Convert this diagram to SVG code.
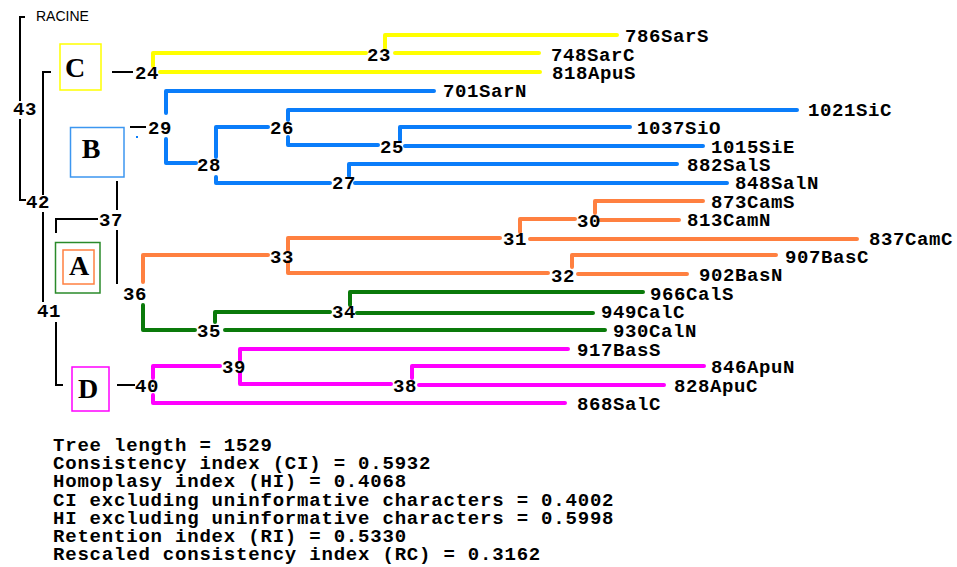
<svg xmlns="http://www.w3.org/2000/svg" width="957" height="567" viewBox="0 0 957 567">
<style>
.lab{font-family:"Liberation Mono","DejaVu Sans Mono",monospace;font-weight:bold;font-size:19px;letter-spacing:0.6px;fill:#000}
.num{font-family:"Liberation Mono","DejaVu Sans Mono",monospace;font-weight:bold;font-size:19px;letter-spacing:0.6px;fill:#000}
.stat{font-family:"Liberation Mono","DejaVu Sans Mono",monospace;font-weight:bold;font-size:19px;letter-spacing:0.8px;fill:#000}
.big{font-family:"Liberation Serif","DejaVu Serif",serif;font-weight:bold;font-size:28px;fill:#000;text-anchor:middle}
.y{fill:none;stroke:#FFFF00;stroke-width:4;stroke-linecap:round;stroke-linejoin:round}
.b{fill:none;stroke:#0A7DFA;stroke-width:4;stroke-linecap:round;stroke-linejoin:round}
.o{fill:none;stroke:#FF8040;stroke-width:4;stroke-linecap:round;stroke-linejoin:round}
.g{fill:none;stroke:#0A7A0A;stroke-width:4;stroke-linecap:round;stroke-linejoin:round}
.m{fill:none;stroke:#FF00FF;stroke-width:4;stroke-linecap:round;stroke-linejoin:round}
.k{fill:none;stroke:#000;stroke-width:2}
</style>
<rect width="957" height="567" fill="#fff"/>
<g id="connectors">
<path class="k" d="M25,17 H20 V101 M20,119 V200 H26"/>
<path class="k" d="M51,72 H43 V195 M43,212 V302"/>
<path class="k" d="M56,322 V385 H63"/>
<path class="k" d="M56,233 V219 H98"/>
<path class="k" d="M117,181 V210 M117,230 V284"/>
<path class="k" d="M112,72 H133 M130,127 H146 M117,385 H135"/>
<path d="M41,207 L46,201" stroke="#f00" stroke-width="1" fill="none"/>
<rect x="136" y="136" width="2" height="2" fill="#0A7DFA"/>
<path class="y" d="M160,72 H540 M153,66 V53 H366 M385,48 V35 H617 M395,53 H539"/>
<path class="b" d="M166,113 V91 H434 M166,139 V163 H196 M216,157 V127 H268 M216,177 V183 H330 M288,120 V110 H797 M288,137 V145 H378 M400,140 V127 H630 M405,146 H703 M349,176 V164 H677 M355,183 H727"/>
<path class="o" d="M143,282 V255 H268 M288,250 V238 H500 M288,262 V273 H548 M520,232 V219 H575 M530,239 H857 M595,213 V201 H703 M600,220 H679 M572,267 V255 H776 M578,274 H687"/>
<path class="g" d="M143,305 V330 H195 M215,322 V312 H330 M225,330 H605 M350,305 V292 H643 M357,313 H593"/>
<path class="m" d="M153,378 V366 H220 M153,395 V403 H565 M240,360 V349 H568 M240,373 V384 H391 M412,378 V366 H704 M419,385 H664"/>
</g>
<g id="root"><text x="36" y="21" font-family="Liberation Sans,Arial,sans-serif" font-size="14" fill="#000">RACINE</text></g>
<g id="boxC"><rect x="60" y="44" width="41" height="46" fill="none" stroke="#FFFF00" stroke-width="1.5"/><text class="big" x="75" y="77">C</text></g>
<g id="boxB"><rect x="70.5" y="127.5" width="53.5" height="49.5" fill="none" stroke="#3C96F0" stroke-width="1.5"/><text class="big" x="91" y="158">B</text></g>
<g id="boxA"><rect x="55.5" y="242.5" width="44.5" height="50.5" fill="none" stroke="#2A8A2A" stroke-width="1.5"/><rect x="63" y="250" width="31" height="34" fill="none" stroke="#FF8040" stroke-width="1.5"/><text class="big" x="79" y="275">A</text></g>
<g id="boxD"><rect x="72" y="367" width="37" height="44" fill="none" stroke="#FF00FF" stroke-width="1.5"/><text class="big" x="88" y="398">D</text></g>
<g id="nodes">
<g id="n43"><text class="num" x="13" y="115">43</text></g>
<g id="n42"><text class="num" x="26" y="208">42</text></g>
<g id="n41"><text class="num" x="37" y="317">41</text></g>
<g id="n37"><text class="num" x="99" y="226">37</text></g>
<g id="n36"><text class="num" x="123" y="300">36</text></g>
<g id="n24"><text class="num" x="135" y="79">24</text></g>
<g id="n23"><text class="num" x="367" y="61">23</text></g>
<g id="n29"><text class="num" x="148" y="134">29</text></g>
<g id="n28"><text class="num" x="197" y="171">28</text></g>
<g id="n26"><text class="num" x="270" y="134">26</text></g>
<g id="n25"><text class="num" x="380" y="153">25</text></g>
<g id="n27"><text class="num" x="332" y="189">27</text></g>
<g id="n33"><text class="num" x="270" y="263">33</text></g>
<g id="n31"><text class="num" x="503" y="245">31</text></g>
<g id="n30"><text class="num" x="577" y="227">30</text></g>
<g id="n32"><text class="num" x="551" y="282">32</text></g>
<g id="n35"><text class="num" x="197" y="337">35</text></g>
<g id="n34"><text class="num" x="332" y="318">34</text></g>
<g id="n40"><text class="num" x="135" y="392">40</text></g>
<g id="n39"><text class="num" x="222" y="373">39</text></g>
<g id="n38"><text class="num" x="393" y="392">38</text></g>
</g>
<g id="leaves">
<text class="lab" x="625" y="42">786SarS</text>
<text class="lab" x="551" y="61">748SarC</text>
<text class="lab" x="552" y="79">818ApuS</text>
<text class="lab" x="443" y="97">701SarN</text>
<text class="lab" x="808" y="116">1021SiC</text>
<text class="lab" x="637" y="134">1037SiO</text>
<text class="lab" x="711" y="153">1015SiE</text>
<text class="lab" x="687" y="171">882SalS</text>
<text class="lab" x="735" y="189">848SalN</text>
<text class="lab" x="711" y="208">873CamS</text>
<text class="lab" x="687" y="226">813CamN</text>
<text class="lab" x="869" y="245">837CamC</text>
<text class="lab" x="785" y="263">907BasC</text>
<text class="lab" x="699" y="281">902BasN</text>
<text class="lab" x="650" y="300">966CalS</text>
<text class="lab" x="601" y="318">949CalC</text>
<text class="lab" x="613" y="337">930CalN</text>
<text class="lab" x="577" y="356">917BasS</text>
<text class="lab" x="711" y="373">846ApuN</text>
<text class="lab" x="674" y="392">828ApuC</text>
<text class="lab" x="577" y="410">868SalC</text>
</g>
<g id="stats">
<text class="stat" x="53" y="451">Tree length = 1529</text>
<text class="stat" x="53" y="469">Consistency index (CI) = 0.5932</text>
<text class="stat" x="53" y="487">Homoplasy index (HI) = 0.4068</text>
<text class="stat" x="53" y="506">CI excluding uninformative characters = 0.4002</text>
<text class="stat" x="53" y="524">HI excluding uninformative characters = 0.5998</text>
<text class="stat" x="53" y="542">Retention index (RI) = 0.5330</text>
<text class="stat" x="53" y="560">Rescaled consistency index (RC) = 0.3162</text>
</g>
</svg>
